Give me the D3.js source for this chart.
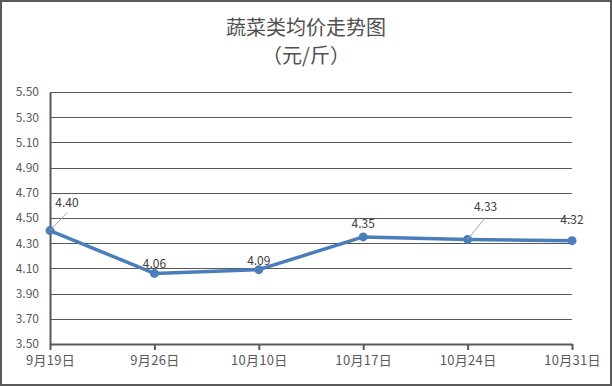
<!DOCTYPE html>
<html>
<head>
<meta charset="utf-8">
<script src="https://cdn.jsdelivr.net/npm/d3@7"></script>
<style>
  body { margin: 0; background: #fff; }
  svg text { font-family: "Noto Sans CJK SC", "Liberation Sans", sans-serif; }
</style>
</head>
<body>
<div id="chart"></div>
<script>
// chart data
const dates = ["9月19日", "9月26日", "10月10日", "10月17日", "10月24日", "10月31日"];
const prices = [4.40, 4.06, 4.09, 4.35, 4.33, 4.32];
const yTicks = [3.50, 3.70, 3.90, 4.10, 4.30, 4.50, 4.70, 4.90, 5.10, 5.30, 5.50];
const titleLines = ["蔬菜类均价走势图", "（元/斤）"];

const width = 612, height = 386;
const margin = {top: 92, right: 40, bottom: 42, left: 50};
const grey = "#595959";
const blue = "#4a7ebb";

// per-label nudges, like the hand-dragged labels in the original
const labelShift = [[17, -24, true], [0, -5, false], [0, -5, false], [0, -9, false], [18, -28, true], [0, -17, false]];

const svg = d3.select("#chart").append("svg")
    .attr("width", width)
    .attr("height", height);

svg.append("rect")
    .attr("x", 1).attr("y", 1)
    .attr("width", width - 2).attr("height", height - 2)
    .attr("fill", "#fff")
    .attr("stroke", grey)
    .attr("stroke-width", 2);

const x = d3.scalePoint()
    .domain(dates)
    .range([margin.left, width - margin.right]);

const y = d3.scaleLinear()
    .domain([3.5, 5.5])
    .range([height - margin.bottom, margin.top]);

// title
svg.append("g").selectAll("text")
    .data(titleLines).enter()
    .append("text")
    .attr("x", 306)
    .attr("y", (d, i) => 35 + i * 28)
    .attr("text-anchor", "middle")
    .attr("font-size", 20)
    .attr("fill", "#505050")
    .text(d => d);

// gridlines
svg.append("g").selectAll("line")
    .data(yTicks.slice(1)).enter()
    .append("line")
    .attr("x1", margin.left).attr("x2", width - margin.right)
    .attr("y1", d => Math.round(y(d)) + 0.5).attr("y2", d => Math.round(y(d)) + 0.5)
    .attr("stroke", grey)
    .attr("stroke-width", 1);

// y axis
const yAxis = svg.append("g")
    .attr("transform", `translate(${margin.left},0)`)
    .call(d3.axisLeft(y).tickValues(yTicks).tickFormat(d3.format(".2f")).tickSize(0).tickPadding(11));
yAxis.select(".domain").attr("stroke", grey).attr("stroke-width", 2);
yAxis.selectAll("text").attr("font-size", 12).attr("fill", grey)
    .attr("font-family", "'Liberation Sans', sans-serif");

// x axis
const xAxis = svg.append("g")
    .attr("transform", `translate(0,${height - margin.bottom})`)
    .call(d3.axisBottom(x).tickSize(6).tickPadding(6).tickSizeOuter(0));
xAxis.select(".domain").attr("stroke", grey).attr("stroke-width", 2);
xAxis.selectAll(".tick line").attr("stroke", grey).attr("stroke-width", 2);
xAxis.selectAll("text").attr("font-size", 13).attr("fill", grey)
    .attr("letter-spacing", 0.3);

// line + markers
const line = d3.line()
    .x((d, i) => x(dates[i]))
    .y(d => y(d));

svg.append("path")
    .datum(prices)
    .attr("d", line)
    .attr("fill", "none")
    .attr("stroke", blue)
    .attr("stroke-width", 3.5)
    .attr("stroke-linejoin", "round");

svg.append("g").selectAll("circle")
    .data(prices).enter()
    .append("circle")
    .attr("cx", (d, i) => x(dates[i]))
    .attr("cy", d => y(d))
    .attr("r", 4.5)
    .attr("fill", blue);

// leader lines for moved labels
svg.append("g").selectAll("line")
    .data(prices.map((d, i) => [d, i]).filter(p => labelShift[p[1]][2])).enter()
    .append("line")
    .attr("x1", p => x(dates[p[1]]))
    .attr("y1", p => y(p[0]))
    .attr("x2", p => x(dates[p[1]]) + labelShift[p[1]][0])
    .attr("y2", p => y(p[0]) + labelShift[p[1]][1] + 6)
    .attr("stroke", "#a6a6a6")
    .attr("stroke-width", 1);

// data labels
svg.append("g").selectAll("text")
    .data(prices).enter()
    .append("text")
    .attr("x", (d, i) => x(dates[i]) + labelShift[i][0])
    .attr("y", (d, i) => y(d) + labelShift[i][1])
    .attr("text-anchor", "middle")
    .attr("font-size", 12)
    .attr("font-family", "'Liberation Sans', sans-serif")
    .attr("fill", "#404040")
    .text(d => d.toFixed(2));
</script>
</body>
</html>
